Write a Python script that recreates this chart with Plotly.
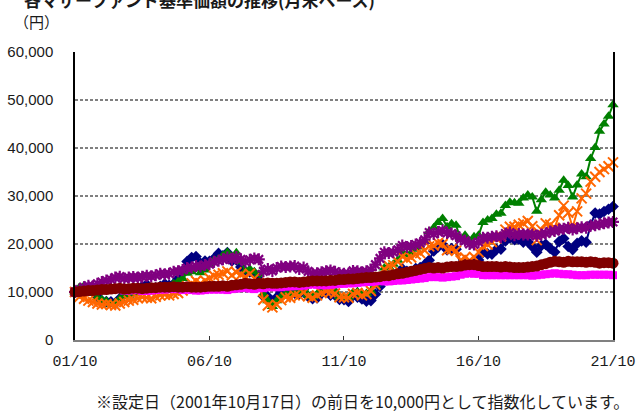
import pandas as pd
import plotly.graph_objects as go

# bimonthly observations: 2001/10, 2001/12, then Feb..Dec for 2002-2020, then Feb..Oct 2021
dates = pd.date_range("2001-10-01", "2021-10-01", freq="2MS")

navy = [10000, 9800,
        10070, 10450, 10070, 9030, 8170, 8010,
        7970, 7580, 8640, 9600, 10080, 10010,
        10480, 11160, 11540, 10670, 10860, 11160,
        11680, 11390, 11680, 12770, 14360, 16340,
        17170, 17370, 15960, 16460, 16360, 16970,
        18030, 17510, 18230, 16480, 16690, 15190,
        14180, 14180, 13860, 12600, 9140, 9030,
        8030, 8880, 9950, 10490, 9420, 9740,
        9610, 10690, 9070, 8640, 8750, 9720,
        10450, 9350, 9350, 8470, 8420, 8030,
        9270, 8940, 8550, 8100, 8210, 9550,
        11170, 12880, 12880, 12650, 13570, 14820,
        14280, 13690, 14870, 15100, 15690, 16640,
        18540, 19400, 19890, 18790, 19030, 18910,
        15600, 16080, 15000, 15960, 16680, 18240,
        17960, 17900, 18840, 18950, 20650, 21290,
        20890, 21000, 20410, 20470, 19470, 18300,
        19680, 19930, 19070, 18330, 20500, 21160,
        19480, 18830, 20120, 20640, 20380, 23940,
        26440, 26220, 26770, 27240, 27800]

green = [10000, 11000,
         11300, 10900, 9700, 8800, 8400, 8100,
         7500, 7800, 8600, 9100, 9400, 9700,
         10100, 10400, 10500, 10200, 10400, 10900,
         11100, 11000, 11700, 12200, 12800, 13900,
         14200, 14900, 14000, 14600, 15600, 16600,
         16900, 17600, 18300, 17400, 18200, 16300,
         14400, 14800, 14200, 13700, 9600, 8200,
         7000, 8200, 9100, 9700, 9600, 10100,
         9900, 10900, 9400, 9000, 9600, 10300,
         10800, 10900, 10300, 9000, 9000, 8900,
         9900, 10100, 9500, 9700, 10200, 11600,
         13200, 15000, 15200, 15800, 16600, 18400,
         17800, 18200, 18900, 19400, 20500, 22600,
         23400, 24500, 25300, 23600, 24200, 23900,
         21000, 21800, 20500, 21500, 21800, 24500,
         25000, 25300, 26200, 26400, 28000, 28700,
         28600, 28500, 29600, 30200, 29800, 26800,
         29200, 30800, 30200, 29600, 31200, 33300,
         32200, 29800, 32300, 34600, 34000, 37800,
         40100, 43500, 45000, 46600, 49000]

orange = [10000, 9000,
          8600, 8200, 7900, 7600, 7400, 7500,
          7300, 7200, 7600, 7900, 8200, 8400,
          8700, 8900, 8800, 8700, 9000, 9300,
          9400, 9300, 9600, 9800, 10300, 11200,
          11800, 12300, 11800, 12400, 12900, 13400,
          13600, 13900, 14300, 13500, 14100, 13600,
          13200, 13800, 12800, 11900, 8400, 7200,
          6800, 7400, 8300, 8900, 8800, 9300,
          9200, 9900, 9100, 8800, 9300, 9800,
          10100, 10000, 9700, 8900, 8900, 8800,
          9600, 9800, 9300, 9600, 10200, 11500,
          13000, 14800, 15400, 15600, 16300, 17400,
          16900, 17200, 17800, 18100, 18700, 19500,
          19700, 20200, 20000, 18700, 18900, 18600,
          16600, 17200, 16600, 17300, 18300, 19600,
          19900, 20400, 21200, 21600, 23000, 23600,
          23600, 24000, 24300, 24800, 23700, 20800,
          23000, 24300, 24000, 23400, 26000, 28000,
          26500, 23500, 26800, 29500, 30500, 33000,
          34000, 35000, 35600, 36200, 37000]

purple = [10000, 10500,
          11000, 11300, 11200, 11700, 12100, 12400,
          12600, 13000, 13200, 12800, 13000, 13100,
          13000, 13200, 13400, 13300, 13500, 13800,
          13700, 13800, 14200, 14300, 14600, 15000,
          15100, 15400, 15300, 15600, 15800, 16300,
          16500, 16800, 17200, 16700, 17300, 16800,
          16300, 16700, 17000, 16800, 14300, 14800,
          14400, 15000, 15300, 15200, 15300, 15400,
          14800, 15100, 14300, 13800, 13900, 14100,
          14300, 14500, 14200, 13900, 13800, 13800,
          14400, 14300, 14100, 14300, 14600, 15700,
          17000, 18300, 18100, 18300, 18800, 19700,
          19400, 19600, 19900, 20200, 20900, 22400,
          22100, 22500, 22800, 22300, 22200, 21700,
          21000, 20700, 20000, 19900, 20400, 21300,
          21300, 21500, 21600, 21400, 22200, 22400,
          21800, 22100, 22000, 22000, 22000, 21700,
          22000, 22200, 22600, 22700, 23000, 23200,
          23400, 23000, 23300, 23500, 23400, 23800,
          23900, 24100, 24300, 24500, 24600]

magenta = [10000, 10100,
           10100, 10200, 10200, 10300, 10400, 10400,
           10500, 10600, 10700, 10300, 10300, 10400,
           10400, 10200, 10200, 10300, 10400, 10500,
           10500, 10600, 10600, 10600, 10400, 10500,
           10400, 10300, 10300, 10400, 10500, 10500,
           10500, 10500, 10400, 10600, 10700, 10800,
           10900, 10700, 10600, 10800, 10800, 11000,
           11000, 11000, 11000, 11100, 11200, 11200,
           11300, 11300, 11500, 11600, 11500, 11400,
           11400, 11500, 11600, 11700, 11700, 11800,
           11800, 11900, 12000, 12100, 12100, 12200,
           12300, 12200, 12200, 12300, 12400, 12400,
           12500, 12600, 12700, 12800, 12900, 13100,
           13100, 13100, 13000, 13100, 13200, 13300,
           13600, 13800, 13900, 13800, 13800, 13500,
           13500, 13500, 13500, 13500, 13500, 13500,
           13500, 13500, 13500, 13500, 13400, 13500,
           13600, 13700, 13800, 13900, 13800, 13700,
           13700, 13600, 13500, 13500, 13500, 13600,
           13600, 13600, 13600, 13600, 13500]

darkred = [10000, 10100,
           10200, 10300, 10300, 10400, 10500, 10500,
           10600, 10700, 10800, 10600, 10700, 10800,
           10800, 10700, 10800, 10900, 10900, 11000,
           11000, 11000, 11100, 11000, 11000, 11100,
           11000, 11000, 11000, 11100, 11200, 11200,
           11200, 11300, 11200, 11400, 11500, 11600,
           11800, 11700, 11600, 11800, 11700, 11900,
           11800, 11800, 11900, 12000, 12100, 12100,
           12000, 12100, 12200, 12300, 12300, 12300,
           12300, 12400, 12400, 12600, 12600, 12700,
           12700, 12800, 12900, 13000, 13000, 13100,
           13200, 13400, 13400, 13600, 13800, 13900,
           14100, 14300, 14500, 14700, 14900, 15100,
           15000, 15100, 15000, 15200, 15300, 15300,
           15400, 15600, 15700, 15700, 15500, 15300,
           15300, 15300, 15300, 15200, 15300, 15200,
           15100, 15100, 15100, 15200, 15300, 15400,
           15700, 15900, 16200, 16400, 16300, 16200,
           16400, 16300, 16300, 16300, 16200, 16300,
           16200, 16000, 16100, 16100, 16000]

x_tick_dates = ["2001-10-01", "2006-10-01", "2011-10-01", "2016-10-01", "2021-10-01"]
x_tick_labels = ["01/10", "06/10", "11/10", "16/10", "21/10"]
y_tick_vals = [0, 10000, 20000, 30000, 40000, 50000, 60000]
y_tick_labels = ["0", "10,000", "20,000", "30,000", "40,000", "50,000", "60,000"]
grid_vals = [10000, 20000, 30000, 40000, 50000]

title_text = "各マザーファンド基準価額の推移(月末ベース)"
unit_text = "（円）"
note_text = "※設定日（2001年10月17日）の前日を10,000円として指数化しています。"

series = [
    (navy, "#000080", dict(symbol="diamond", size=9, color="#000080", line=dict(width=0))),
    (green, "#008000", dict(symbol="triangle-up", size=10, color="#008000", line=dict(width=0))),
    (orange, "#FF6600", dict(symbol="x-thin", size=10, color="#FF6600", line=dict(width=2, color="#FF6600"))),
    (purple, "#800080", dict(symbol="asterisk", size=10, color="#800080", line=dict(width=2.2, color="#800080"))),
    (magenta, "#FF00FF", dict(symbol="square", size=8, color="#FF00FF", line=dict(width=0))),
    (darkred, "#800000", dict(symbol="circle", size=11, color="#800000", line=dict(width=0))),
]

fig = go.Figure()
for vals, col, mk in series:
    fig.add_trace(go.Scatter(x=dates, y=vals, mode="lines+markers",
                             line=dict(color=col, width=2), marker=mk,
                             cliponaxis=False, showlegend=False, hoverinfo="skip"))

for g in grid_vals:
    fig.add_shape(type="line", xref="paper", x0=0, x1=1, yref="y", y0=g, y1=g,
                  line=dict(color="black", width=1, dash="3px,2px"), layer="below")

fig.update_layout(
    width=640, height=412,
    margin=dict(l=75, r=27, t=52, b=72, autoexpand=False),
    paper_bgcolor="white", plot_bgcolor="white",
    showlegend=False,
    font=dict(family="Liberation Sans", color="#1a1a1a"),
)

fig.update_xaxes(
    type="date", automargin=False,
    range=["2001-10-01", "2021-10-01"],
    tickvals=x_tick_dates, ticktext=x_tick_labels,
    ticks="inside", ticklen=4, tickcolor="#333333", tickwidth=1,
    showgrid=False, zeroline=False,
    showline=True, linecolor="#808080", linewidth=2, mirror=False,
    tickfont=dict(family="Liberation Mono", size=15, color="#1a1a1a"),
    ticklabelstandoff=6,
)
fig.update_yaxes(
    automargin=False,
    range=[0, 60000],
    tickvals=y_tick_vals, ticktext=y_tick_labels,
    ticks="outside", ticklen=0,
    showgrid=False, zeroline=False,
    showline=True, linecolor="black", linewidth=1.5, mirror=True,
    tickfont=dict(family="Liberation Sans", size=15, color="#1a1a1a"),
    ticklabelstandoff=17,
)

fig.add_annotation(text="<b>" + title_text + "</b>", xref="paper", yref="paper",
                   x=(22 - 75) / 538, y=1 + (52 + 1) / 288, xanchor="left", yanchor="middle",
                   showarrow=False, font=dict(family="Noto Sans CJK JP", size=17, color="#1a1a1a"))
fig.add_annotation(text=unit_text, xref="paper", yref="paper",
                   x=(36 - 75) / 538, y=1 + (52 - 21) / 288, xanchor="center", yanchor="middle",
                   showarrow=False, font=dict(family="Noto Sans CJK JP", size=15, color="#1a1a1a"))
fig.add_annotation(text=note_text, xref="paper", yref="paper",
                   x=(362 - 75) / 538, y=-(401 - 340) / 288, xanchor="center", yanchor="middle",
                   showarrow=False, font=dict(family="Noto Sans CJK JP", size=16, color="#1a1a1a"))

fig.write_html("out.html", config={"displayModeBar": False},
               post_script="document.body.style.margin='0';document.body.style.padding='0';")
